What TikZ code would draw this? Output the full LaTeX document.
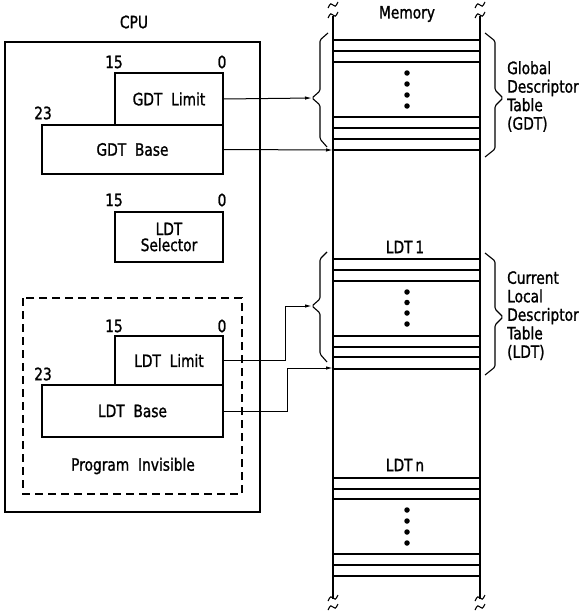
\documentclass[tikz,border=0pt]{standalone}
\usepackage{fontspec}
\setmainfont[FakeStretch=0.81,FakeBold=1.2]{DejaVu Sans}
\usetikzlibrary{arrows.meta}
\begin{document}
\begin{tikzpicture}[x=1pt,y=-1pt,
  txt/.style={font=\fontsize{17}{18.5}\selectfont, inner sep=0pt},
  reg/.style={draw, line width=1.7pt, inner sep=0pt, font=\fontsize{17}{18}\selectfont, align=center},
  conn/.style={line width=1pt, -{Latex[length=7pt,width=3.4pt]}},
  brc/.style={line width=1.1pt, rounded corners=1.5pt},
  memline/.style={line width=2.4pt},
  slot/.style={line width=1.8pt},
  brk/.style={line width=1.1pt},
  dot/.style={fill, circle, inner sep=0pt, minimum size=5.5pt}]
\useasboundingbox[fill=white] (0,0) rectangle (581,613);

% ---------------- CPU ----------------
\node[txt] (cpu) at (134,22) {CPU};
\draw[line width=2.2pt] (5,42) rectangle (260,512);
\draw[line width=1.4pt, dash pattern=on 8pt off 5pt] (23,298) rectangle (242,494);

\node[reg, minimum width=108pt, minimum height=52pt] (gdtlim) at (169,99) {GDT\ \ Limit};
\node[reg, minimum width=181pt, minimum height=49pt] (gdtbase) at (132.5,149.5) {GDT\ \ Base};
\node[txt] (n15a) at (114,62) {15};
\node[txt] (n0a) at (222,62) {0};
\node[txt] (n23a) at (43,113) {23};

\node[txt] (n15b) at (114,200) {15};
\node[txt] (n0b) at (222,200) {0};
\node[reg, minimum width=108pt, minimum height=50pt] (ldtsel) at (169,237) {LDT\\[-2pt]Selector};

\node[txt] (n15c) at (114,326) {15};
\node[txt] (n0c) at (222,326) {0};
\node[txt] (n23c) at (43,374) {23};
\node[reg, minimum width=108pt, minimum height=49pt] (ldtlim) at (169,360.5) {LDT\ \ Limit};
\node[reg, minimum width=181pt, minimum height=52pt] (ldtbase) at (132.5,411) {LDT\ \ Base};
\node[txt] (pinv) at (133,466) {Program\ \ Invisible};

% ---------------- Memory ----------------
\node[txt] (mem) at (407,14) {Memory};
\coordinate (mlt) at (333,16);
\coordinate (mlb) at (333,599);
\coordinate (mrt) at (480,16);
\coordinate (mrb) at (480,599);
\draw[memline] (mlt) -- (mlb);
\draw[memline] (mrt) -- (mrb);
% break marks
\foreach \x in {333,480}{
  \draw[brk] (\x-5,18) .. controls (\x-3,13) and (\x-1,13) .. (\x,15) .. controls (\x+1,17) and (\x+3,17) .. (\x+5,12);
  \draw[brk] (\x-5,8) .. controls (\x-3,3) and (\x-1,3) .. (\x,5) .. controls (\x+1,7) and (\x+3,7) .. (\x+5,2);
  \draw[brk] (\x-5,601) .. controls (\x-3,596) and (\x-1,596) .. (\x,598) .. controls (\x+1,600) and (\x+3,600) .. (\x+5,595);
  \draw[brk] (\x-5,610) .. controls (\x-3,605) and (\x-1,605) .. (\x,607) .. controls (\x+1,609) and (\x+3,609) .. (\x+5,604);
}
% GDT slots
\foreach \y in {40,51,62,117,128,139,150}{\draw[slot] (333,\y) -- (480,\y);}
\foreach \y in {73,84,95,106}{\node[dot] at (407,\y) {};}
% LDT1 slots
\node[txt] (ldt1) at (405,247) {LDT\,1};
\foreach \y in {259,270,281,336,347,357,369}{\draw[slot] (333,\y) -- (480,\y);}
\foreach \y in {292,302.5,313,324}{\node[dot] at (407,\y) {};}
% LDTn slots
\node[txt] (ldtn) at (405,465) {LDT\,n};
\foreach \y in {478,489,499,554,565,576}{\draw[slot] (333,\y) -- (480,\y);}
\foreach \y in {510,521,532,543}{\node[dot] at (407,\y) {};}

% braces
\coordinate (gbtip) at (312,98);
\coordinate (lbtip) at (312,306);
\draw[brc] (328,33) -- (320,40) -- (320,91) -- (gbtip) -- (320,105) -- (320,139) -- (327,147);
\draw[brc] (485,33) -- (495,41) -- (495,90) -- (503,98) -- (495,106) -- (495,149) -- (485,157);
\draw[brc] (327,252) -- (320,259) -- (320,299) -- (lbtip) -- (320,313) -- (320,354) -- (327,362);
\draw[brc] (485,253) -- (495,261) -- (495,309) -- (503,317) -- (495,325) -- (495,367) -- (485,375);

\node[txt, anchor=north west, align=left] (gdtlbl) at (507,61) {Global\\Descriptor\\Table\\(GDT)};
\node[txt, anchor=north west, align=left] (ldtlbl) at (507,271) {Current\\Local\\Descriptor\\Table\\(LDT)};

% connectors
\coordinate (gbase) at (333,150);
\coordinate (lbase) at (333,368);
\draw[conn] (gdtlim.east) -- (gbtip);
\draw[conn] (gdtbase.east) -- (gbase);
\draw[conn] (ldtlim.east) -- (285,360.5) |- (lbtip);
\draw[conn] (ldtbase.east) -- (287,411) |- (lbase);
\end{tikzpicture}
\end{document}
